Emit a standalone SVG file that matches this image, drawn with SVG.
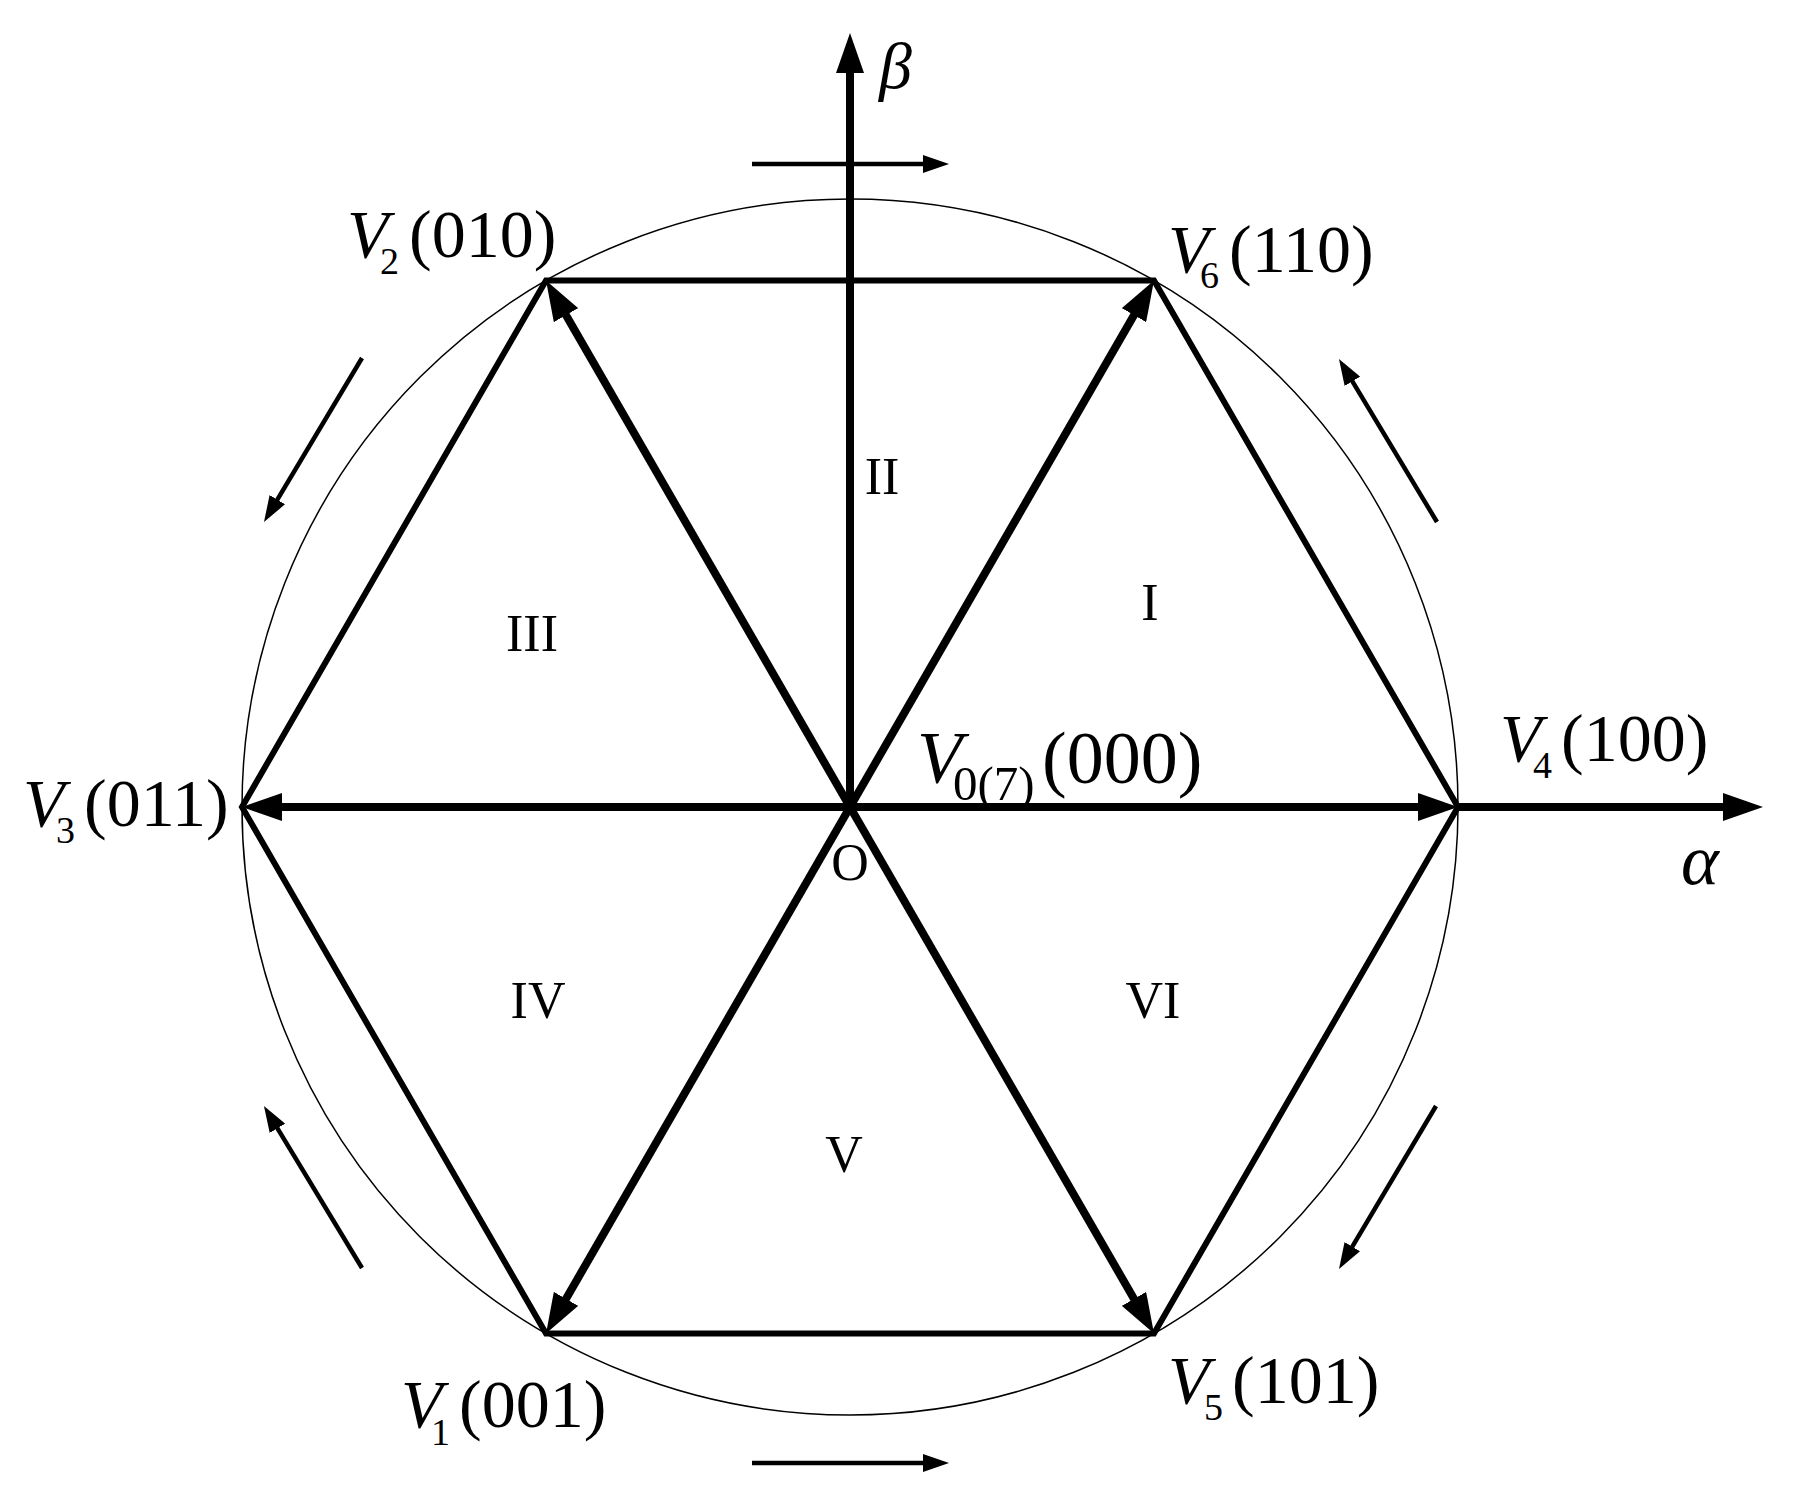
<svg xmlns="http://www.w3.org/2000/svg" width="1793" height="1510" viewBox="0 0 1793 1510">
<style>
.lbl{font-family:"Liberation Serif","Times New Roman",serif;fill:#000}
.it{font-style:italic}
.big{font-size:68px}
.sub{font-size:38px}
.sec{font-size:52px}
.thick{stroke:#000;stroke-width:8;fill:none}
.thin{stroke:#000;stroke-width:4.5;fill:none}
</style>
<defs>
<marker id="bigHead" markerUnits="userSpaceOnUse" markerWidth="40" markerHeight="28" viewBox="0 0 40 28" refX="25" refY="14" orient="auto">
<path d="M0,0 L40,14 L0,28 z" fill="#000"/>
</marker>
<marker id="smallHead" markerUnits="userSpaceOnUse" markerWidth="26" markerHeight="18" viewBox="0 0 26 18" refX="18" refY="9" orient="auto">
<path d="M0,0 L26,9 L0,18 z" fill="#000"/>
</marker>
</defs>
<rect width="1793" height="1510" fill="#fff"/>
<g id="circle">
<circle cx="850" cy="807" r="608" fill="none" stroke="#000" stroke-width="1.5"/>
</g>
<g id="hexagon">
<polygon points="1458,807 1154,280.5 546,280.5 242,807 546,1333.5 1154,1333.5" fill="none" stroke="#000" stroke-width="6" stroke-linejoin="miter"/>
</g>
<g id="connectors">
<line class="thick" x1="850" y1="807" x2="850" y2="48" marker-end="url(#bigHead)"/>
<line class="thick" x1="1458" y1="807" x2="1748" y2="807" marker-end="url(#bigHead)"/>
<line class="thick" x1="850" y1="807" x2="1443" y2="807" marker-end="url(#bigHead)"/>
<line class="thick" x1="850" y1="807" x2="257" y2="807" marker-end="url(#bigHead)"/>
<line class="thick" x1="850" y1="807" x2="1146.5" y2="293.5" marker-end="url(#bigHead)"/>
<line class="thick" x1="850" y1="807" x2="553.5" y2="293.5" marker-end="url(#bigHead)"/>
<line class="thick" x1="850" y1="807" x2="553.5" y2="1320.5" marker-end="url(#bigHead)"/>
<line class="thick" x1="850" y1="807" x2="1146.5" y2="1320.5" marker-end="url(#bigHead)"/>
<line class="thin" x1="752" y1="164" x2="941" y2="164" marker-end="url(#smallHead)"/>
<line class="thin" x1="752" y1="1463" x2="941" y2="1463" marker-end="url(#smallHead)"/>
<line class="thin" x1="1437" y1="522" x2="1343.1" y2="365.9" marker-end="url(#smallHead)"/>
<line class="thin" x1="362" y1="358" x2="268.1" y2="515.1" marker-end="url(#smallHead)"/>
<line class="thin" x1="362" y1="1268" x2="268.1" y2="1112.9" marker-end="url(#smallHead)"/>
<line class="thin" x1="1436" y1="1106" x2="1343.1" y2="1262.1" marker-end="url(#smallHead)"/>
</g>
<g id="axis-labels">
<text class="lbl it" x="879" y="88" font-size="66">β</text>
<text class="lbl it" x="1681" y="884" font-size="72">α</text>
<text class="lbl" x="850" y="880" font-size="52" text-anchor="middle">O</text>
</g>
<g id="node-V2">
<text class="lbl it big" x="347" y="257">V</text>
<text class="lbl sub" x="380" y="274">2</text>
<text class="lbl big" x="409" y="257">(010)</text>
</g>
<g id="node-V6">
<text class="lbl it big" x="1168" y="272">V</text>
<text class="lbl sub" x="1200" y="288">6</text>
<text class="lbl big" x="1229" y="272">(110)</text>
</g>
<g id="node-V4">
<text class="lbl it big" x="1500" y="761">V</text>
<text class="lbl sub" x="1533" y="778">4</text>
<text class="lbl big" x="1561" y="761">(100)</text>
</g>
<g id="node-V3">
<text class="lbl it big" x="23" y="826">V</text>
<text class="lbl sub" x="56" y="843">3</text>
<text class="lbl big" x="84" y="826">(011)</text>
</g>
<g id="node-V1">
<text class="lbl it big" x="401" y="1427">V</text>
<text class="lbl sub" x="431" y="1445">1</text>
<text class="lbl big" x="459" y="1427">(001)</text>
</g>
<g id="node-V5">
<text class="lbl it big" x="1168" y="1403">V</text>
<text class="lbl sub" x="1204" y="1420">5</text>
<text class="lbl big" x="1232" y="1403">(101)</text>
</g>
<g id="node-V0">
<text class="lbl it" x="917" y="783" font-size="74">V</text>
<text class="lbl" x="953" y="800" font-size="49">0(7)</text>
<text class="lbl" x="1042" y="783" font-size="74">(000)</text>
</g>
<g id="sectors">
<text class="lbl sec" x="1150" y="620" text-anchor="middle">I</text>
<text class="lbl sec" x="882" y="494" text-anchor="middle">II</text>
<text class="lbl sec" x="532" y="651" text-anchor="middle">III</text>
<text class="lbl sec" x="538" y="1018" text-anchor="middle">IV</text>
<text class="lbl sec" x="844" y="1172" text-anchor="middle">V</text>
<text class="lbl sec" x="1153" y="1018" text-anchor="middle">VI</text>
</g>
</svg>
